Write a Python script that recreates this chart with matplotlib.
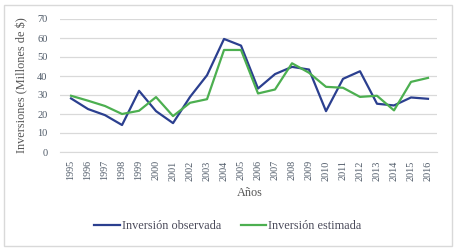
import matplotlib
matplotlib.use("Agg")
import matplotlib.pyplot as plt
from matplotlib.patches import Rectangle

years = [str(y) for y in range(1995, 2017)]
observada = [28.2, 22.6, 19.4, 14.2, 32.2, 21.5, 15.2, 29.0, 40.4, 59.5, 56.0,
             33.4, 41.0, 44.8, 43.4, 21.5, 38.5, 42.5, 25.4, 24.5, 28.7, 28.0]
estimada = [29.6, 27.0, 24.2, 20.0, 21.7, 28.9, 18.9, 25.9, 27.8, 53.7, 53.7,
            30.8, 32.9, 46.7, 41.7, 34.3, 33.8, 29.0, 29.6, 21.9, 36.9, 39.0]
yticks = [0, 10, 20, 30, 40, 50, 60, 70]

plt.rcParams['font.family'] = ['Liberation Serif', 'DejaVu Serif']
txt = '#4f5a68'

fig = plt.figure(figsize=(4.56, 2.5), dpi=100)
fig.patches.append(Rectangle((4 / 456, 4 / 250), 448 / 456, 241 / 250,
                             transform=fig.transFigure, fill=False,
                             edgecolor='#d9d9d9', linewidth=1))
ax = fig.add_axes([60 / 456, 1 - 152 / 250, 377 / 456, 133 / 250])

x = list(range(len(years)))
ax.plot(x, observada, color='#2b3f8f', linewidth=1.6, label='Inversión observada')
ax.plot(x, estimada, color='#4caf50', linewidth=1.6, label='Inversión estimada')

ax.set_xlim(-0.65, 21.53)
ax.set_ylim(0, 70)
ax.set_yticks(yticks)
ax.set_yticklabels([str(v) for v in yticks], fontsize=7.5, color=txt)
ax.set_xticks(x)
ax.set_xticklabels(years, rotation=90, fontsize=7.3, color=txt)
ax.tick_params(axis='both', length=0)
ax.tick_params(axis='y', pad=9)
ax.tick_params(axis='x', pad=6)
ax.grid(axis='y', color='#d9d9d9', linewidth=0.9)
ax.set_axisbelow(True)
for s in ['top', 'right', 'left']:
    ax.spines[s].set_visible(False)
ax.spines['bottom'].set_color('#d9d9d9')

ax.set_ylabel('Inversiones (Millones de $)', fontsize=8.8, color='#555555')
ax.yaxis.set_label_coords(-0.085, 0.5)
fig.text(250 / 456, 1 - 193 / 250, 'Años', fontsize=8.8, color='#555555',
         ha='center', va='center')

fig.legend(loc='center', bbox_to_anchor=(0.5, 1 - 226 / 250), ncol=2, frameon=False,
           fontsize=8.8, handlelength=2.1, handletextpad=0.15, columnspacing=1.6,
           labelcolor='#4a4a5a')

fig.savefig('out.png', dpi=100)
